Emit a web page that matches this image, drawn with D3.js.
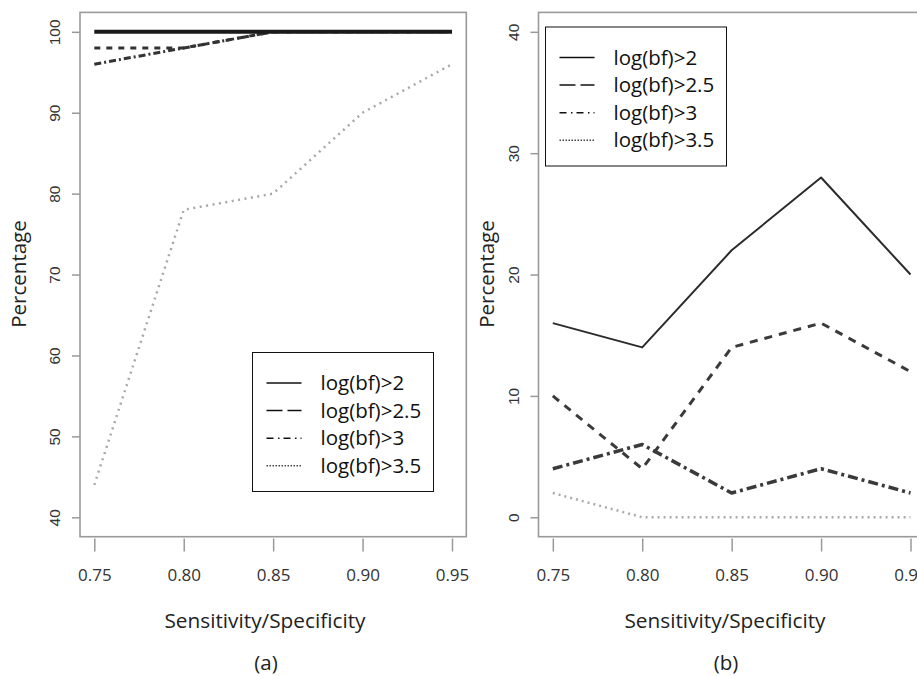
<!DOCTYPE html>
<html>
<head>
<meta charset="utf-8">
<script src="https://cdn.jsdelivr.net/npm/d3@7"></script>
<style>
  body { margin: 0; background: #fff; }
  svg { display: block; }
  .tick text { fill: #333; }
</style>
</head>
<body>
<div id="chart"></div>
<script>
// data
const xVals = [0.75, 0.80, 0.85, 0.90, 0.95];
const seriesNames = ["log(bf)>2", "log(bf)>2.5", "log(bf)>3", "log(bf)>3.5"];

// panel (a)
const aBf2 = [100, 100, 100, 100, 100];
const aBf25 = [98, 98, 100, 100, 100];
const aBf3 = [96, 98, 100, 100, 100];
const aBf35 = [44, 78, 80, 90, 96];
const yTicksA = [40, 50, 60, 70, 80, 90, 100];

// panel (b)
const bBf2 = [16, 14, 22, 28, 20];
const bBf25 = [10, 4, 14, 16, 12];
const bBf3 = [4, 6, 2, 4, 2];
const bBf35 = [2, 0, 0, 0, 0];
const yTicksB = [0, 10, 20, 30, 40];

const W = 917, H = 676;

const svg = d3.select("#chart")
    .append("svg")
    .attr("width", W)
    .attr("height", H);

const labelFont = "'Open Sans', sans-serif";
const tickFont = "'Liberation Sans', Arial, sans-serif";

// line looks for each series, per panel
const stylesA = [
    { color: "#1a1a1a", width: 4, dash: null },
    { color: "#333", width: 3, dash: "6,6" },
    { color: "#333", width: 3, dash: "7,3,2,3" },
    { color: "#a8a8a8", width: 2.5, dash: "2,4.5" }
];
const stylesB = [
    { color: "#2b2b2b", width: 2, dash: null },
    { color: "#3a3a3a", width: 3, dash: "8,7" },
    { color: "#3a3a3a", width: 3.5, dash: "10,4,3,4" },
    { color: "#aaa", width: 2.5, dash: "2,4" }
];
const legendDash = [null, "16,5", "7,4.5,1.5,4", "1.5,1.5"];

function drawPanel(opt) {
    const x = d3.scaleLinear().domain([0.742, 0.958]).range([opt.left, opt.right]);
    const y = d3.scaleLinear().domain(opt.yDomain).range([536.7, 12.4]);

    // plot box
    svg.append("rect")
        .attr("x", opt.left)
        .attr("y", 12.4)
        .attr("width", opt.right - opt.left)
        .attr("height", 536.7 - 12.4)
        .attr("fill", "none")
        .attr("stroke", "#9a9a9a")
        .attr("stroke-width", 1.6);

    // y axis, R style rotated labels
    const yAxis = svg.append("g")
        .attr("transform", `translate(${opt.left},0)`)
        .call(d3.axisLeft(y).tickValues(opt.yTicks).tickSize(8).tickFormat(d3.format("d")));
    yAxis.select(".domain").remove();
    yAxis.selectAll(".tick line").attr("stroke", "#999").attr("stroke-width", 1.5);
    yAxis.selectAll(".tick text")
        .attr("x", null)
        .attr("dy", null)
        .attr("transform", "translate(-20,0) rotate(-90)")
        .attr("text-anchor", "middle")
        .style("font-family", tickFont)
        .style("font-size", "15.5px");

    // x axis
    const xAxis = svg.append("g")
        .attr("transform", "translate(0,538.5)")
        .call(d3.axisBottom(x).tickValues(xVals).tickSize(13).tickSizeOuter(0).tickFormat(d3.format(".2f")));
    xAxis.select(".domain").remove();
    xAxis.selectAll(".tick line").attr("stroke", "#999").attr("stroke-width", 1.5);
    xAxis.selectAll(".tick text")
        .attr("y", 37)
        .attr("dy", "0.32em")
        .style("font-family", labelFont)
        .style("font-size", "17px");

    // axis titles
    svg.append("text")
        .attr("x", opt.titleX)
        .attr("y", 621)
        .attr("dy", "0.35em")
        .attr("text-anchor", "middle")
        .style("font-family", labelFont)
        .style("font-size", "20.8px")
        .attr("fill", "#222")
        .text("Sensitivity/Specificity");

    svg.append("text")
        .attr("transform", `translate(${opt.ylabX},274) rotate(-90)`)
        .attr("dy", "0.35em")
        .attr("text-anchor", "middle")
        .style("font-family", labelFont)
        .style("font-size", "20.5px")
        .attr("fill", "#222")
        .text("Percentage");

    svg.append("text")
        .attr("x", opt.titleX + 1)
        .attr("y", 663)
        .attr("dy", "0.35em")
        .attr("text-anchor", "middle")
        .style("font-family", labelFont)
        .style("font-size", "20.5px")
        .attr("fill", "#222")
        .text(opt.tag);

    // lines, dotted first so the solid one sits on top
    const line = d3.line()
        .x(d => x(d.x))
        .y(d => y(d.y));

    [3, 2, 1, 0].forEach(i => {
        const s = opt.styles[i];
        const pts = xVals.map((v, j) => ({ x: v, y: opt.series[i][j] }));
        svg.append("path")
            .datum(pts)
            .attr("fill", "none")
            .attr("stroke", s.color)
            .attr("stroke-width", s.width)
            .attr("stroke-dasharray", s.dash)
            .attr("stroke-linejoin", "round")
            .attr("d", line);
    });

    // legend
    const lg = svg.append("g").attr("transform", `translate(${opt.legX},${opt.legY})`);
    lg.append("rect")
        .attr("width", 181)
        .attr("height", 139)
        .attr("fill", "#fff")
        .attr("stroke", "#111")
        .attr("stroke-width", 1);

    seriesNames.forEach((name, i) => {
        const ry = 30.5 + i * 27.6;
        lg.append("line")
            .attr("x1", 14).attr("x2", 49)
            .attr("y1", ry).attr("y2", ry)
            .attr("stroke", i === 3 ? "#444" : "#111")
            .attr("stroke-width", 1.5)
            .attr("stroke-dasharray", legendDash[i]);
        lg.append("text")
            .attr("x", 68)
            .attr("y", ry)
            .attr("dy", "0.35em")
            .style("font-family", labelFont)
            .style("font-size", "20.5px")
            .attr("fill", "#111")
            .text(name);
    });
}

drawPanel({
    left: 80, right: 466.3,
    yDomain: [37.6, 102.4], yTicks: yTicksA,
    series: [aBf2, aBf25, aBf3, aBf35], styles: stylesA,
    titleX: 265, ylabX: 19, tag: "(a)",
    legX: 252.5, legY: 352.5
});

drawPanel({
    left: 538.5, right: 924.8,
    yDomain: [-1.6, 41.6], yTicks: yTicksB,
    series: [bBf2, bBf25, bBf3, bBf35], styles: stylesB,
    titleX: 725, ylabX: 487, tag: "(b)",
    legX: 545.5, legY: 27
});
</script>
</body>
</html>
